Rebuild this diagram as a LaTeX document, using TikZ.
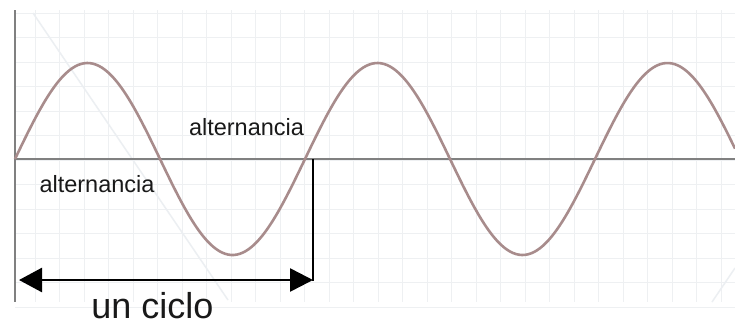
\documentclass[tikz,border=0pt]{standalone}
\usepackage{fontspec}
\setmainfont{Liberation Sans}
\usetikzlibrary{arrows.meta}
\definecolor{wavecol}{RGB}{168,140,140}
\definecolor{axiscol}{RGB}{128,128,128}
\definecolor{gridcol}{RGB}{238,240,242}
\definecolor{diagcol}{RGB}{236,239,242}
\definecolor{txtcol}{RGB}{25,25,25}
\tikzset{
  axisline/.style={draw=axiscol, line width=2.4pt},
  wave/.style={draw=wavecol, line width=2.6pt},
  lbl/.style={anchor=base, inner sep=0pt, text=txtcol, font=\fontsize{23.5}{23.5}\selectfont},
  biglbl/.style={anchor=base, inner sep=0pt, text=txtcol, font=\fontsize{36}{36}\selectfont},
  cyclearrow/.style={draw=black, line width=2.6pt, {Triangle[length=23pt,width=24pt]}-{Triangle[length=23pt,width=23pt]}},
  marker/.style={draw=black, line width=2.2pt}
}
\begin{document}
\begin{tikzpicture}[x=1pt,y=-1pt]
\useasboundingbox (0,0) rectangle (735,325);
\fill[white] (0,0) rectangle (735,325);
% faint grid
\foreach \i in {0,...,12} {
  \draw[gridcol, line width=0.8pt] (15,{13+24.5*\i}) -- (735,{13+24.5*\i});
}
\foreach \i in {0,...,29} {
  \draw[gridcol, line width=0.8pt] ({35+24.5*\i},10) -- ({35+24.5*\i},302);
}
% faint diagonals
\draw[diagcol, line width=1.5pt] (33,13) -- (228,300);
\draw[diagcol, line width=1.5pt] (712,302) -- (735,268);
% axes
\coordinate (ytop) at (15,10);
\coordinate (ybot) at (15,302);
\coordinate (o) at (15,159);
\coordinate (xend) at (735,159);
\draw[axisline] (ytop) -- (ybot);
\draw[axisline] (o) -- (xend);
% sine wave
\draw[wave, domain=15:735, samples=241, smooth] plot (\x, {159 - 96*sin((\x-15)/290*360)});
% cycle marker
\coordinate (cross) at (313,159);
\coordinate (mbot) at (313,281);
\coordinate (aL) at (19,280);
\coordinate (aR) at (313,280);
\draw[marker] (cross) -- (mbot);
\draw[cyclearrow] (aL) -- (aR);
% labels
\node[lbl] (alt1) at (246.5,135) {alternancia};
\node[lbl] (alt2) at (97,192) {alternancia};
\node[biglbl] (ciclo) at (152.5,318) {un ciclo};
\end{tikzpicture}
\end{document}
